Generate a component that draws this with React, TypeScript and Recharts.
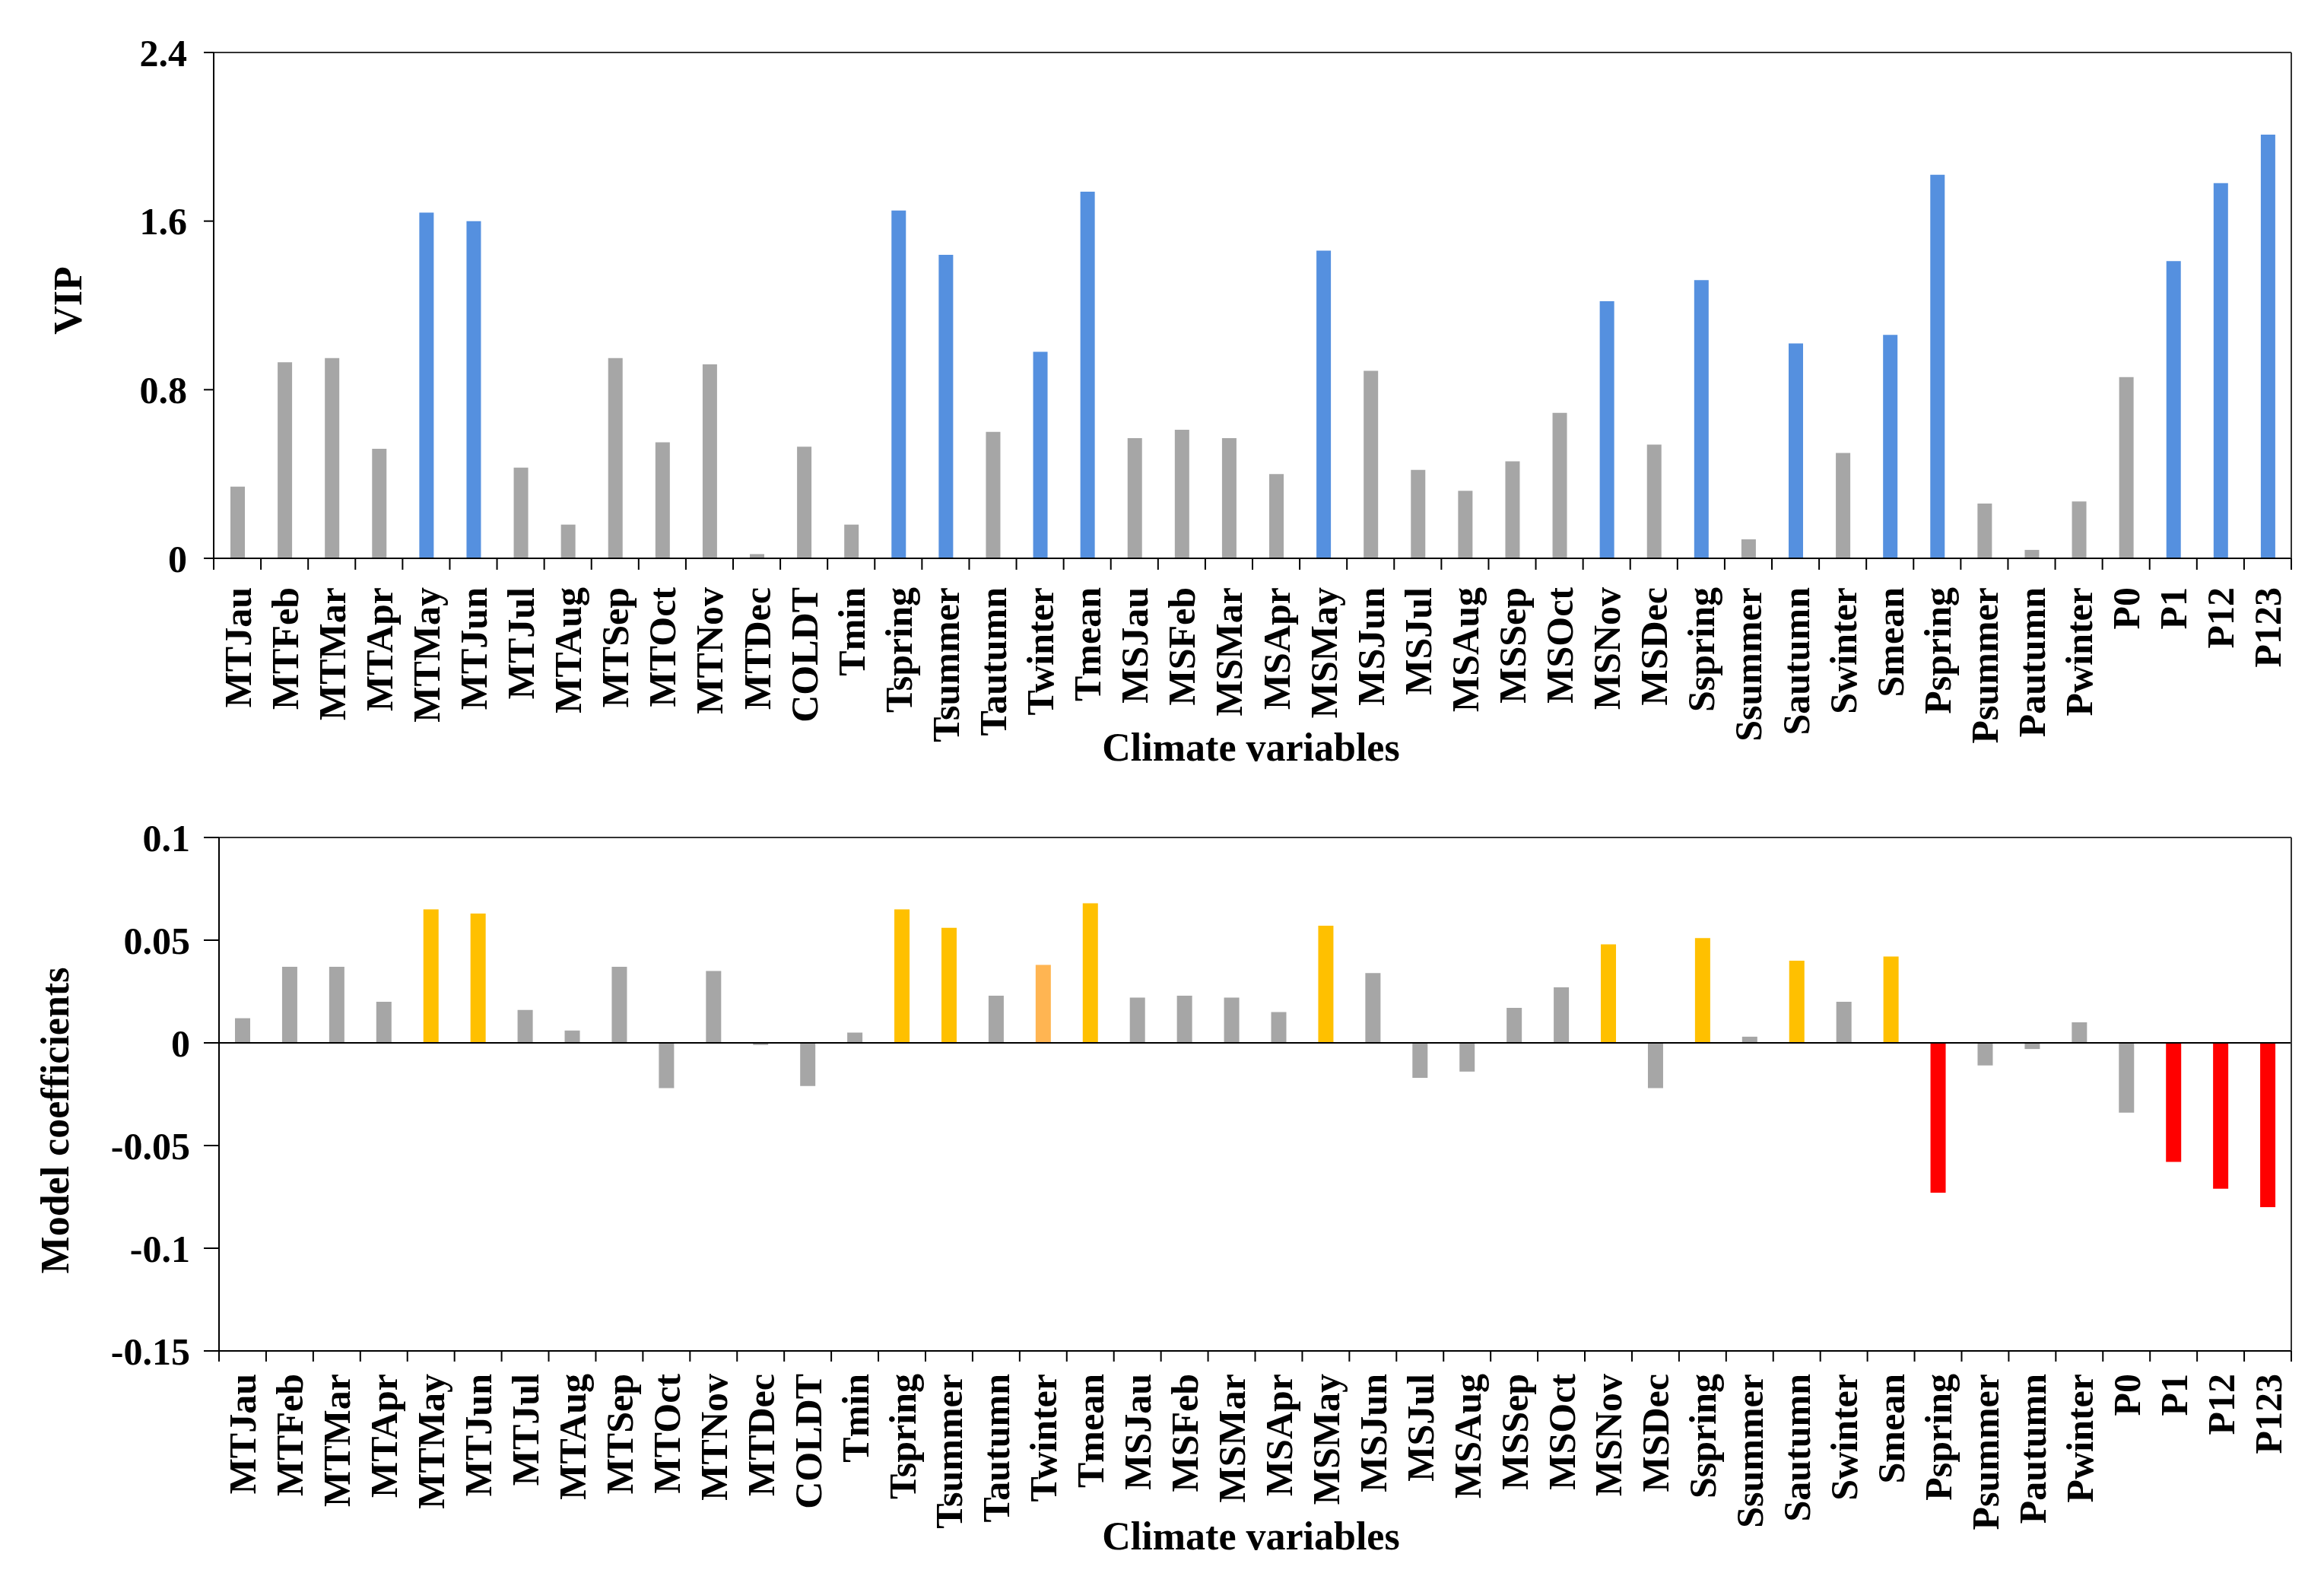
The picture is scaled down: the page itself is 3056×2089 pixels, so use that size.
import { BarChart, Bar, Cell, XAxis, YAxis, ReferenceLine } from 'recharts';

const categories = [
  'MTJau', 'MTFeb', 'MTMar', 'MTApr', 'MTMay', 'MTJun', 'MTJul', 'MTAug', 'MTSep', 'MTOct', 'MTNov', 'MTDec',
  'COLDT', 'Tmin', 'Tspring', 'Tsummer', 'Tautumn', 'Twinter', 'Tmean',
  'MSJau', 'MSFeb', 'MSMar', 'MSApr', 'MSMay', 'MSJun', 'MSJul', 'MSAug', 'MSSep', 'MSOct', 'MSNov', 'MSDec',
  'Sspring', 'Ssummer', 'Sautumn', 'Swinter', 'Smean',
  'Pspring', 'Psummer', 'Pautumn', 'Pwinter',
  'P0', 'P1', 'P12', 'P123',
];

const vipValues = [
  0.34, 0.93, 0.95, 0.52, 1.64, 1.6, 0.43, 0.16, 0.95, 0.55, 0.92, 0.02,
  0.53, 0.16, 1.65, 1.44, 0.6, 0.98, 1.74,
  0.57, 0.61, 0.57, 0.4, 1.46, 0.89, 0.42, 0.32, 0.46, 0.69, 1.22, 0.54,
  1.32, 0.09, 1.02, 0.5, 1.06,
  1.82, 0.26, 0.04, 0.27,
  0.86, 1.41, 1.78, 2.01,
];

const coefValues = [
  0.012, 0.037, 0.037, 0.02, 0.065, 0.063, 0.016, 0.006, 0.037, -0.022, 0.035, -0.001,
  -0.021, 0.005, 0.065, 0.056, 0.023, 0.038, 0.068,
  0.022, 0.023, 0.022, 0.015, 0.057, 0.034, -0.017, -0.014, 0.017, 0.027, 0.048, -0.022,
  0.051, 0.003, 0.04, 0.02, 0.042,
  -0.073, -0.011, -0.003, 0.01,
  -0.034, -0.058, -0.071, -0.08,
];

// variables flagged as important (VIP highlight)
const important = [
  'MTMay', 'MTJun', 'Tspring', 'Tsummer', 'Twinter', 'Tmean', 'MSMay', 'MSNov',
  'Sspring', 'Sautumn', 'Smean', 'Pspring', 'P1', 'P12', 'P123',
];
const weakImportant = ['Twinter'];

const vipTicks = [0, 0.8, 1.6, 2.4];
const coefTicks = [-0.15, -0.1, -0.05, 0, 0.05, 0.1];

const FONT = '"Liberation Serif", "Times New Roman", serif';
const GRAY = '#a6a6a6';
const BLUE = '#5590df';
const ORANGE = '#ffc000';
const LIGHT_ORANGE = '#ffb552';
const RED = '#ff0000';

const W = 3056;
const PLOT_RIGHT = 3013;

const vipData = categories.map((name, i) => ({ name, vip: vipValues[i] }));
const coefData = categories.map((name, i) => ({ name, coef: coefValues[i] }));

function vipColor(name: string) {
  return important.includes(name) ? BLUE : GRAY;
}

function coefColor(name: string, v: number) {
  if (weakImportant.includes(name)) return LIGHT_ORANGE;
  if (!important.includes(name)) return GRAY;
  return v >= 0 ? ORANGE : RED;
}

function CategoryTick(props: any) {
  const { x, y, payload, index, step, labelGap, tickLen } = props;
  const ly = y + labelGap;
  return (
    <g>
      <line x1={x - step / 2} y1={y} x2={x - step / 2} y2={y + tickLen} stroke="#000" strokeWidth={2} />
      {index === categories.length - 1 && (
        <line x1={x + step / 2} y1={y} x2={x + step / 2} y2={y + tickLen} stroke="#000" strokeWidth={2} />
      )}
      <text
        x={x}
        y={ly}
        transform={`rotate(-90, ${x}, ${ly})`}
        textAnchor="end"
        dy="0.35em"
        fontFamily={FONT}
        fontWeight="bold"
        fontSize={50}
        fill="#000"
      >
        {payload.value}
      </text>
    </g>
  );
}

const yTickStyle = { fontFamily: FONT, fontWeight: 'bold', fontSize: 50, fill: '#000' };

export default function App() {
  const topLeft = 281;
  const botLeft = 288;
  const topStep = (PLOT_RIGHT - topLeft) / categories.length;
  const botStep = (PLOT_RIGHT - botLeft) / categories.length;

  return (
    <div style={{ position: 'absolute', left: 0, top: 0, width: W, height: 2089, background: '#fff' }}>
      <div style={{ position: 'absolute', left: 0, top: 0 }}>
        <BarChart
          width={W}
          height={1050}
          data={vipData}
          margin={{ top: 68, right: W - PLOT_RIGHT - 1, bottom: 16, left: topLeft - 120 }}
          barSize={19}
        >
          <XAxis
            dataKey="name"
            interval={0}
            height={300}
            tickSize={0}
            tickMargin={0}
            axisLine={{ stroke: '#000', strokeWidth: 2 }}
            tickLine={false}
            tick={<CategoryTick step={topStep} labelGap={38} tickLen={15} />}
          />
          <XAxis xAxisId="top" orientation="top" dataKey="name" height={1} tick={false} tickLine={false}
            axisLine={{ stroke: '#333', strokeWidth: 2 }} />
          <YAxis
            domain={[0, 2.4]}
            ticks={vipTicks}
            width={120}
            tickSize={13}
            tickMargin={22}
            axisLine={{ stroke: '#000', strokeWidth: 2 }}
            tickLine={{ stroke: '#000', strokeWidth: 2 }}
            tick={yTickStyle}
          />
          <YAxis yAxisId="right" orientation="right" width={1} tick={false} tickLine={false}
            axisLine={{ stroke: '#333', strokeWidth: 2 }} />
          <Bar dataKey="vip" isAnimationActive={false}>
            {vipData.map((d) => (
              <Cell key={d.name} fill={vipColor(d.name)} />
            ))}
          </Bar>
        </BarChart>
      </div>

      <div style={{ position: 'absolute', left: 0, top: 1050 }}>
        <BarChart
          width={W}
          height={1039}
          data={coefData}
          margin={{ top: 50, right: W - PLOT_RIGHT - 1, bottom: 23, left: botLeft - 120 }}
          barSize={20}
        >
          <XAxis
            dataKey="name"
            interval={0}
            height={290}
            tickSize={0}
            tickMargin={0}
            axisLine={{ stroke: '#000', strokeWidth: 2 }}
            tickLine={false}
            tick={<CategoryTick step={botStep} labelGap={30} tickLen={14} />}
          />
          <XAxis xAxisId="top" orientation="top" dataKey="name" height={1} tick={false} tickLine={false}
            axisLine={{ stroke: '#333', strokeWidth: 2 }} />
          <YAxis
            domain={[-0.15, 0.1]}
            ticks={coefTicks}
            width={120}
            tickSize={20}
            tickMargin={18}
            axisLine={{ stroke: '#000', strokeWidth: 2 }}
            tickLine={{ stroke: '#000', strokeWidth: 2 }}
            tick={yTickStyle}
          />
          <YAxis yAxisId="right" orientation="right" width={1} tick={false} tickLine={false}
            axisLine={{ stroke: '#333', strokeWidth: 2 }} />
          <Bar dataKey="coef" isAnimationActive={false}>
            {coefData.map((d) => (
              <Cell key={d.name} fill={coefColor(d.name, d.coef)} />
            ))}
          </Bar>
          <ReferenceLine y={0} stroke="#000" strokeWidth={2} />
        </BarChart>
      </div>

      <svg
        width={W}
        height={2089}
        style={{ position: 'absolute', left: 0, top: 0, pointerEvents: 'none' }}
        fontFamily={FONT}
        fontWeight="bold"
        fontSize={52}
      >
        <text x={89} y={395} transform="rotate(-90, 89, 395)" textAnchor="middle" dominantBaseline="central">VIP</text>
        <text x={1645} y={982} textAnchor="middle" dominantBaseline="central">Climate variables</text>
        <text x={72} y={1473} transform="rotate(-90, 72, 1473)" textAnchor="middle" dominantBaseline="central">
          Model coefficients
        </text>
        <text x={1645} y={2019} textAnchor="middle" dominantBaseline="central">Climate variables</text>
      </svg>
    </div>
  );
}
